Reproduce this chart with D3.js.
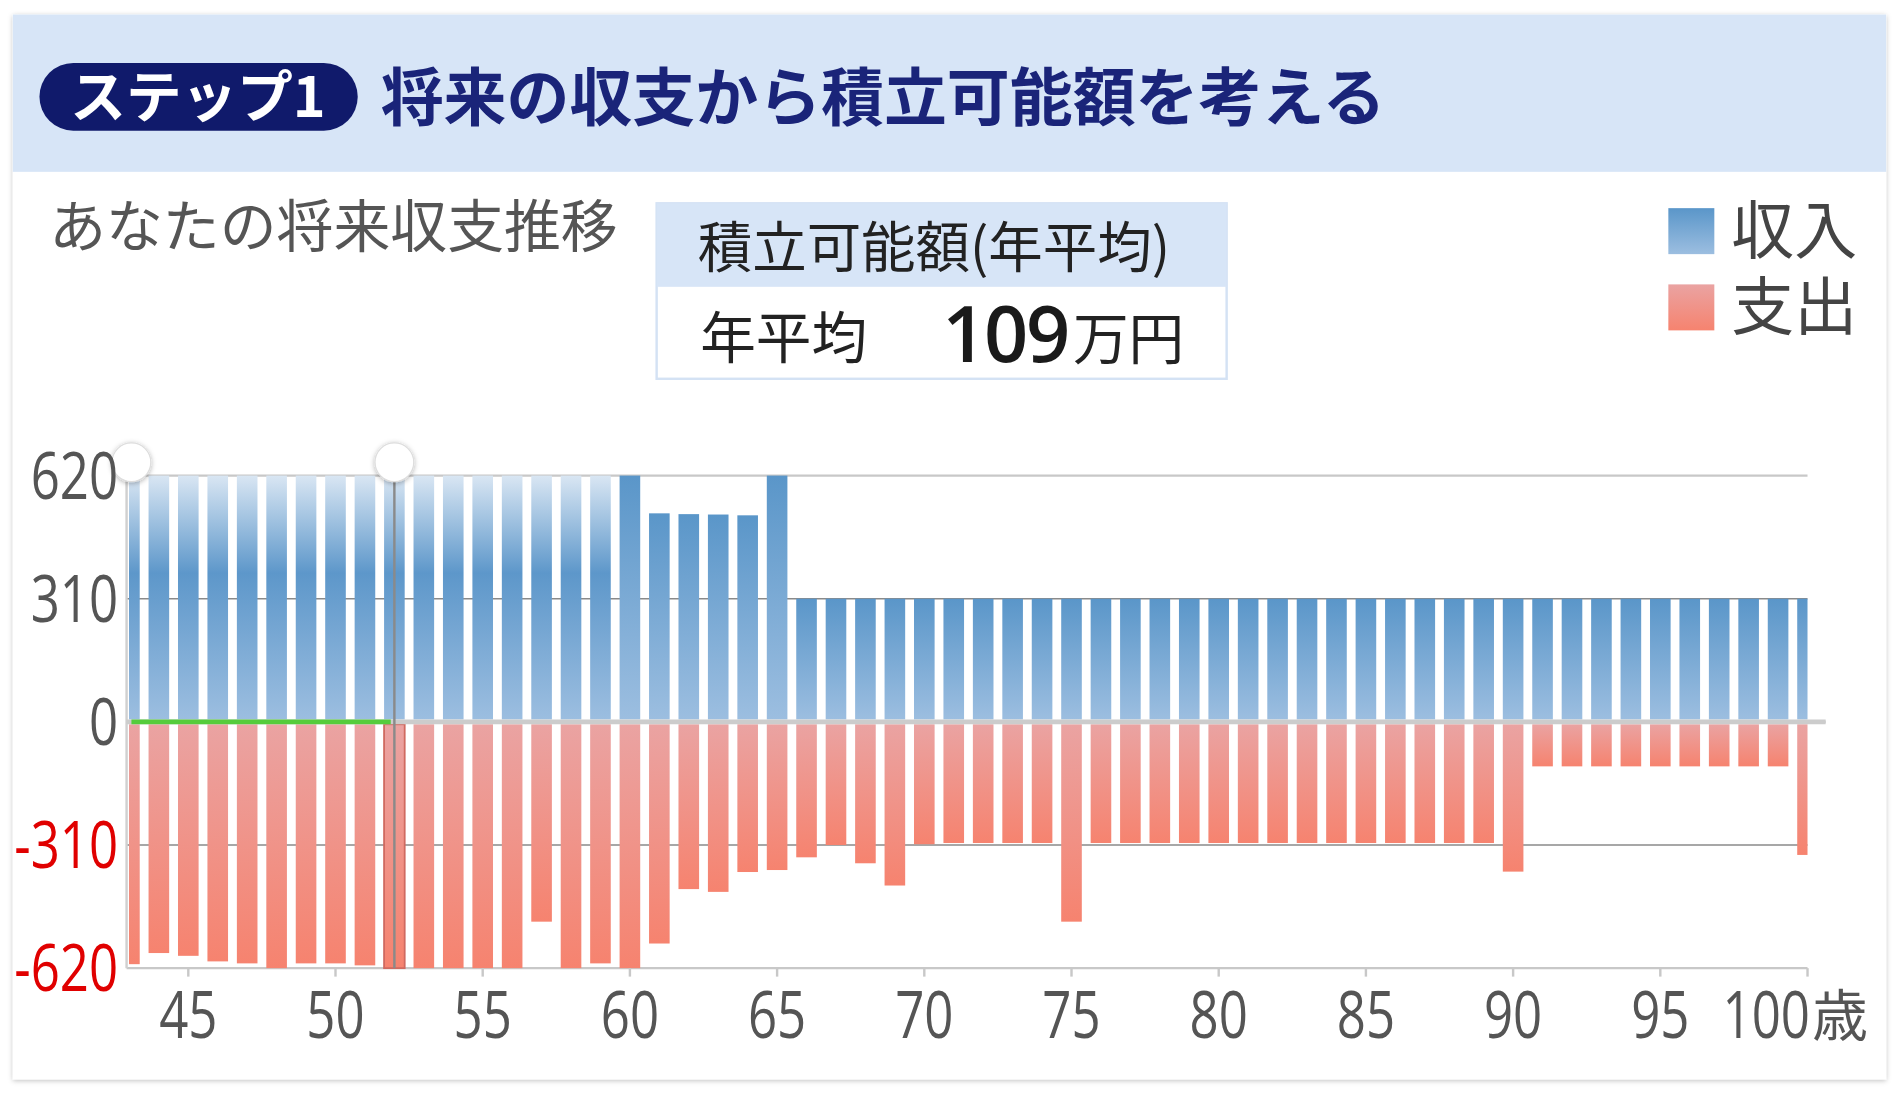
<!DOCTYPE html>
<html><head><meta charset="utf-8">
<script src="https://cdn.jsdelivr.net/npm/d3@7"></script>
<style>
html,body{margin:0;padding:0;background:#fff;}
svg{display:block;}
</style></head>
<body>
<svg id="chart" width="1899" height="1094" viewBox="0 0 1568 904"></svg>
<script>
// chart data (万円)
const ages = d3.range(43, 101);
const income = [620,620,620,620,620,620,620,620,620,620,620,620,620,620,620,620,620,620,
  525,523,522,520,620,
  310,310,310,310,310,310,310,310,310,310,310,310,310,310,310,310,310,310,310,310,310,310,310,310,310,310,310,310,310,310,310,310,310,310,310,310];
const expense = [-610,-582,-589,-603,-608,-620,-608,-608,-613,-620,-620,-620,-620,-620,-503,-620,-608,-620,
  -558,-421,-428,-378,-373,-341,-310,-356,-412,-308,
  -305,-305,-305,-305,-503,-305,-305,-305,-305,-305,-305,-305,-305,-305,-305,-305,-305,-305,-305,
  -377,-112,-112,-112,-112,-112,-112,-112,-112,-112,-335];
const yTicks = [620, 310, 0, -310, -620];
const xTicks = [45, 50, 55, 60, 65, 70, 75, 80, 85, 90, 95, 100];
const selStart = 43, selEnd = 52;

const svg = d3.select('#chart');
const defs = svg.append('defs');

const grad = function(id, stops) {
    const g = defs.append('linearGradient').attr('id', id)
        .attr('x1', 0).attr('x2', 0).attr('y1', 0).attr('y2', 1);
    stops.forEach(s => g.append('stop').attr('offset', s[0]).attr('stop-color', s[1]));
};
grad('incSel', [[0, '#d9e6f3'], [0.4, '#5d97ca'], [1, '#9cbee0']]);
grad('inc', [[0, '#5a96c9'], [1, '#9cbee0']]);
grad('exp', [[0, '#eaa3a2'], [1, '#f6836f']]);
const sh = defs.append('filter').attr('id', 'sh').attr('x', -0.05).attr('y', -0.05).attr('width', 1.1).attr('height', 1.1);
sh.append('feDropShadow').attr('dx', 0).attr('dy', 1).attr('stdDeviation', 2).attr('flood-color', '#000').attr('flood-opacity', 0.25);
const sh2 = defs.append('filter').attr('id', 'sh2').attr('x', -0.5).attr('y', -0.5).attr('width', 2).attr('height', 2);
sh2.append('feDropShadow').attr('dx', 0).attr('dy', 1).attr('stdDeviation', 2).attr('flood-color', '#000').attr('flood-opacity', 0.3);

// card + header
svg.append('rect').attr('x', 10).attr('y', 12).attr('width', 1548).attr('height', 880)
    .attr('fill', '#fff').attr('filter', 'url(#sh)');
svg.append('rect').attr('x', 10).attr('y', 12).attr('width', 1548).attr('height', 130).attr('fill', '#d7e5f7');
svg.append('rect').attr('x', 32).attr('y', 52).attr('width', 263).attr('height', 56).attr('rx', 28).attr('fill', '#101a6b');
const jp = "'Noto Sans CJK JP', sans-serif";
svg.append('text').attr('x', 163).attr('y', 97).attr('text-anchor', 'middle')
    .attr('font-family', jp).attr('font-weight', 700).attr('font-size', 46).attr('fill', '#fff').text('ステップ1');
svg.append('text').attr('x', 314).attr('y', 99)
    .attr('font-family', jp).attr('font-weight', 700).attr('font-size', 52).attr('fill', '#1a2479').text('将来の収支から積立可能額を考える');

svg.append('text').attr('x', 40).attr('y', 204).attr('font-family', jp).attr('font-size', 47).attr('fill', '#555').text('あなたの将来収支推移');

// average box
svg.append('rect').attr('x', 542).attr('y', 168).attr('width', 471).attr('height', 145).attr('fill', '#fff').attr('stroke', '#d4e2f4').attr('stroke-width', 2);
svg.append('rect').attr('x', 542).attr('y', 168).attr('width', 471).attr('height', 69).attr('fill', '#d7e5f7');
svg.append('text').attr('x', 576).attr('y', 221).attr('font-family', jp).attr('font-size', 45).attr('fill', '#222').text('積立可能額(年平均)');
svg.append('text').attr('x', 578).attr('y', 296).attr('font-family', jp).attr('font-size', 46).attr('fill', '#222').text('年平均');
svg.append('text').attr('x', 778).attr('y', 299).attr('font-family', "'Open Sans', sans-serif").attr('font-weight', 600).attr('font-size', 64).attr('letter-spacing', -2).attr('fill', '#1a1a1a').text('109');
svg.append('text').attr('x', 886).attr('y', 297).attr('font-family', jp).attr('font-size', 46).attr('fill', '#222').text('万円');

// legend
const legend = [['収入', 'url(#inc)', 172], ['支出', 'url(#exp)', 235]];
legend.forEach(l => {
    svg.append('rect').attr('x', 1378).attr('y', l[2]).attr('width', 38).attr('height', 38).attr('fill', l[1]);
    svg.append('text').attr('x', 1430).attr('y', l[2] + 37).attr('font-family', jp).attr('font-size', 52).attr('fill', '#444').text(l[0]);
});

// scales
const x = d3.scaleLinear().domain([45, 100]).range([155, 1493]);
const y = d3.scaleLinear().domain([-620, 620]).range([800, 393]);
const step = x(46) - x(45);
const bw = step * 0.7;
const plotL = 104, plotR = 1493;

// condensed numerals: squeeze horizontally
const numFont = "'Open Sans', sans-serif";
const narrowText = function(px, py, anchor, size, fill, txt) {
    svg.append('g').attr('transform', `translate(${px},${py}) scale(0.78,1)`)
        .append('text').attr('text-anchor', anchor)
        .attr('font-family', numFont).attr('font-size', size).attr('fill', fill).text(txt);
};

// grid
yTicks.forEach(t => {
    let col = '#c8c8c8', w = 2, x2 = plotR;
    if (Math.abs(t) === 310) { col = '#8a8a8a'; w = 1.2; }
    if (t === 0) { x2 = 1508; }
    svg.append('line').attr('x1', plotL).attr('x2', x2).attr('y1', y(t)).attr('y2', y(t))
        .attr('stroke', col).attr('stroke-width', w);
});
svg.append('line').attr('x1', plotL).attr('x2', plotL).attr('y1', 380).attr('y2', 800).attr('stroke', '#d0d0d0').attr('stroke-width', 2);

// bars
const clip = defs.append('clipPath').attr('id', 'plotclip');
clip.append('rect').attr('x', plotL + 2).attr('y', 380).attr('width', plotR - plotL - 2).attr('height', 430);
const g = svg.append('g').attr('clip-path', 'url(#plotclip)');
g.selectAll('rect.inc').data(ages).join('rect').attr('class', 'inc')
    .attr('x', a => x(a) - bw / 2).attr('width', bw)
    .attr('y', (a, i) => y(income[i])).attr('height', (a, i) => y(0) - y(income[i]) - 2)
    .attr('fill', a => a < 60 ? 'url(#incSel)' : 'url(#inc)');
g.selectAll('rect.exp').data(ages).join('rect').attr('class', 'exp')
    .attr('x', a => x(a) - bw / 2).attr('width', bw)
    .attr('y', y(0) + 2).attr('height', (a, i) => y(expense[i]) - y(0) - 2)
    .attr('fill', 'url(#exp)')
    .attr('stroke', a => a === selEnd ? '#d06a60' : 'none').attr('stroke-width', 1.5);

// redraw zero line over bars
svg.append('line').attr('x1', plotL).attr('x2', 1508).attr('y1', y(0)).attr('y2', y(0)).attr('stroke', '#cccccc').attr('stroke-width', 4);

// selection range
svg.append('line').attr('x1', x(selEnd)).attr('x2', x(selEnd)).attr('y1', 385).attr('y2', 800)
    .attr('stroke', '#8a8a8a').attr('stroke-width', 2);
svg.append('line').attr('x1', 108).attr('x2', x(selEnd) - 3).attr('y1', y(0)).attr('y2', y(0))
    .attr('stroke', '#55cc3c').attr('stroke-width', 4);
[108, x(selEnd)].forEach(cx => {
    svg.append('circle').attr('cx', cx).attr('cy', 382).attr('r', 16).attr('fill', '#fff')
        .attr('stroke', '#ddd').attr('filter', 'url(#sh2)');
});

// x axis ticks & labels
xTicks.forEach(t => {
    svg.append('line').attr('x1', x(t)).attr('x2', x(t)).attr('y1', 800).attr('y2', 807).attr('stroke', '#c8c8c8').attr('stroke-width', 2);
    if (t !== 100) narrowText(x(t), 858, 'middle', 54, '#555', t);
});
narrowText(x(100) + 2, 858, 'end', 54, '#555', '100');
svg.append('text').attr('x', x(100) + 4).attr('y', 856)
    .attr('font-family', jp).attr('font-size', 46).attr('fill', '#555').text('歳');

// y labels
yTicks.forEach(t => {
    narrowText(97, y(t) + 19, 'end', 54, t < 0 ? '#e00000' : '#555', t);
});
</script>
</body></html>
